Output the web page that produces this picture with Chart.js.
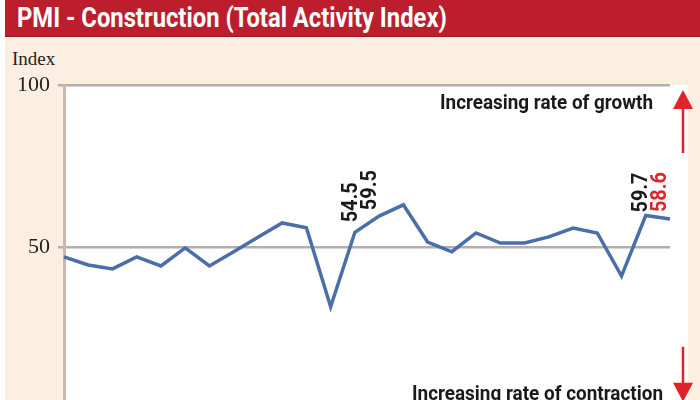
<!DOCTYPE html>
<html lang="en">
<head>
  <meta charset="UTF-8">
  <title>PMI - Construction (Total Activity Index)</title>
  <script src="https://cdn.jsdelivr.net/npm/chart.js"></script>
  <style>
    body {
      margin: 0;
      background: #ffffff;
      overflow: hidden;
    }

    #frame {
      position: relative;
      width: 700px;
      height: 400px;
      overflow: hidden;
    }

    #panel {
      position: absolute;
      left: 5px;
      top: 0;
      width: 695px;
      height: 400px;
      background: #fcefe2;
    }

    #title {
      position: absolute;
      left: 5px;
      top: 0;
      width: 695px;
      height: 36px;
      background: #bd1e2e;
      border-bottom: 1px solid #9e1824;
      color: #ffffff;
      font-family: Roboto, 'DejaVu Sans', sans-serif;
      font-weight: bold;
      font-size: 27px;
      line-height: 36px;
      white-space: nowrap;
    }

    #title span {
      display: inline-block;
      margin-left: 12px;
      transform-origin: left center;
    }

    #unit {
      position: absolute;
      left: 12px;
      top: 48px;
      font-family: 'Liberation Serif', 'DejaVu Serif', serif;
      font-size: 19px;
      color: #222;
    }

    canvas {
      position: absolute;
      left: 0;
      top: 0;
    }
  </style>
</head>
<body>
  <div id="frame">
    <div id="panel"></div>
    <div id="title"><span id="titleText">PMI - Construction (Total Activity Index)</span></div>
    <div id="unit">Index</div>
    <canvas id="pmiChart" width="700" height="430"></canvas>
  </div>

  <script>
    // Survey periods (axis is unlabelled in the original)
    const periods = ['1', '2', '3', '4', '5', '6', '7', '8', '9', '10', '11', '12', '13',
                     '14', '15', '16', '17', '18', '19', '20', '21', '22', '23', '24', '25', '26'];

    // Total activity index
    const pmiValues = [46.9, 44.4, 43.2, 46.9, 44.1, 49.7, 44.1, 48.5, 53.0, 57.4, 55.9, 31.5, 54.5,
                       59.5, 63.0, 51.5, 48.5, 54.3, 51.2, 51.2, 53.1, 55.8, 54.3, 41.0, 59.7, 58.6];

    // Points that carry a value label
    const labelledPoints = [12, 13, 24, 25];

    const yTicks = [50, 100];

    const boldFont = "Roboto, 'DejaVu Sans', sans-serif";

    // squeeze the title into the condensed width of the original
    const titleText = document.getElementById('titleText');
    titleText.style.transform = 'scaleX(' + (430 / titleText.offsetWidth) + ')';

    // White plot panel behind the line (runs a little past the last point)
    const panelPlugin = {
      id: 'panel',
      beforeDraw(chart) {
        const { ctx, chartArea } = chart;
        ctx.save();
        ctx.fillStyle = '#ffffff';
        ctx.fillRect(chartArea.left, chartArea.top, chartArea.right + 18 - chartArea.left, chartArea.bottom - chartArea.top);
        ctx.restore();
      }
    };

    // Growth / contraction notes and red arrows
    const notesPlugin = {
      id: 'notes',
      afterDraw(chart) {
        const { ctx, chartArea } = chart;
        const ax = chartArea.right + 13;
        ctx.save();
        ctx.fillStyle = '#1a1a1a';
        ctx.font = 'bold 20px ' + boldFont;
        ctx.textAlign = 'right';
        ctx.textBaseline = 'alphabetic';
        ctx.fillText('Increasing rate of growth', chartArea.right - 17, chartArea.top + 24, 213);
        ctx.fillText('Increasing rate of contraction', chartArea.right - 7, chartArea.bottom - 9, 251);

        ctx.strokeStyle = '#e0222b';
        ctx.fillStyle = '#e0222b';
        ctx.lineWidth = 2.5;
        // up arrow
        ctx.beginPath();
        ctx.moveTo(ax, chartArea.top + 20);
        ctx.lineTo(ax, chartArea.top + 68);
        ctx.stroke();
        ctx.beginPath();
        ctx.moveTo(ax, chartArea.top + 5);
        ctx.lineTo(ax - 10, chartArea.top + 24);
        ctx.lineTo(ax + 10, chartArea.top + 24);
        ctx.closePath();
        ctx.fill();
        // down arrow
        ctx.beginPath();
        ctx.moveTo(ax, chartArea.bottom - 62);
        ctx.lineTo(ax, chartArea.bottom - 22);
        ctx.stroke();
        ctx.beginPath();
        ctx.moveTo(ax, chartArea.bottom - 7);
        ctx.lineTo(ax - 10, chartArea.bottom - 26);
        ctx.lineTo(ax + 10, chartArea.bottom - 26);
        ctx.closePath();
        ctx.fill();
        ctx.restore();
      }
    };

    // Rotated value labels above selected points
    const valueLabelPlugin = {
      id: 'valueLabels',
      afterDatasetsDraw(chart) {
        const { ctx } = chart;
        const meta = chart.getDatasetMeta(0);
        const nudges = { 12: [-3, -10], 13: [-8.5, -6], 24: [-4, -3], 25: [-10, -7] };
        const colours = { 25: '#e0222b' };
        ctx.save();
        ctx.font = 'bold 22px ' + boldFont;
        ctx.textAlign = 'left';
        ctx.textBaseline = 'middle';
        labelledPoints.forEach(i => {
          const p = meta.data[i];
          const n = nudges[i] || [0, -6];
          ctx.save();
          ctx.translate(p.x + n[0], p.y + n[1]);
          ctx.rotate(-Math.PI / 2);
          ctx.fillStyle = colours[i] || '#1a1a1a';
          ctx.fillText(pmiValues[i].toFixed(1), 0, 0, 40);
          ctx.restore();
        });
        ctx.restore();
      }
    };

    const ctx = document.getElementById('pmiChart').getContext('2d');

    const pmiChart = new Chart(ctx, {
      type: 'line',
      data: {
        labels: periods,
        datasets: [{
          label: 'PMI - Construction',
          data: pmiValues,
          borderColor: '#4a6ea8',
          borderWidth: 3.5,
          pointRadius: 0,
          tension: 0,
          fill: false
        }]
      },
      options: {
        responsive: false,
        animation: false,
        layout: {
          padding: { left: 0, right: 30, top: 85, bottom: 21 }
        },
        plugins: {
          legend: { display: false },
          tooltip: { enabled: false }
        },
        scales: {
          x: {
            display: false,
            offset: false
          },
          y: {
            min: 0,
            max: 100,
            afterBuildTicks: scale => {
              scale.ticks = yTicks.map(v => ({ value: v }));
            },
            afterFit: scale => {
              scale.width = 64;
            },
            border: {
              color: '#c8b8b0',
              width: 3
            },
            grid: {
              color: '#b4afab',
              lineWidth: 2.5,
              tickLength: 6
            },
            ticks: {
              padding: 8,
              color: '#222',
              font: { family: "'Liberation Serif', 'DejaVu Serif', serif", size: 22 }
            }
          }
        }
      },
      plugins: [panelPlugin, notesPlugin, valueLabelPlugin]
    });
  </script>
</body>
</html>
